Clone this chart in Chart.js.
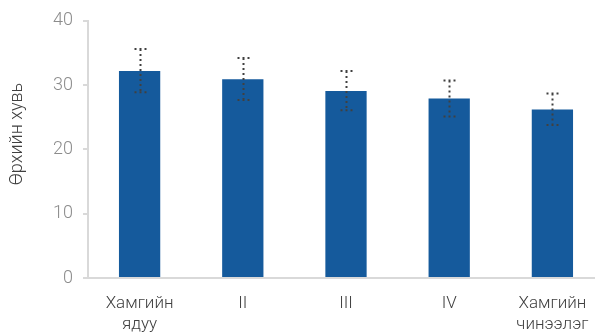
<!DOCTYPE html>
<html>
<head>
<meta charset="utf-8">
<script src="https://cdn.jsdelivr.net/npm/chart.js@4/dist/chart.umd.min.js"></script>
<style>
  html, body { margin: 0; padding: 0; background: #fff; overflow: hidden; }
  #wrap { width: 604px; height: 332px; }
</style>
</head>
<body>
<div id="wrap"><canvas id="chart"></canvas></div>
<script>
// Chart values
const categories = [["Хамгийн", "ядуу"], "II", "III", "IV", ["Хамгийн", "чинээлэг"]];
const shares = [32.2, 30.9, 29.1, 27.9, 26.2];
const errLow = [28.9, 27.7, 26.1, 25.1, 23.8];
const errHigh = [35.6, 34.2, 32.2, 30.7, 28.7];
const yTicks = [0, 10, 20, 30, 40];
const yTitle = 'Өрхийн хувь';

// Dotted error bars drawn on top of the bars
const errorBars = {
    id: 'errorBars',
    afterDatasetsDraw(chart) {
        const ctx = chart.ctx;
        const x = chart.scales.x;
        const y = chart.scales.y;
        ctx.save();
        ctx.strokeStyle = '#404040';
        ctx.lineWidth = 2;
        ctx.setLineDash([2, 3]);
        shares.forEach((v, i) => {
            const cx = Math.round(x.getPixelForValue(i)) + 0.5;
            const top = y.getPixelForValue(errHigh[i]);
            const bot = y.getPixelForValue(errLow[i]);
            ctx.beginPath();
            ctx.moveTo(cx, top);
            ctx.lineTo(cx, bot);
            ctx.moveTo(cx - 6, top);
            ctx.lineTo(cx + 6, top);
            ctx.moveTo(cx - 6, bot);
            ctx.lineTo(cx + 6, bot);
            ctx.stroke();
        });
        ctx.restore();
    }
};

// Y axis title, placed a bit above the middle like the original
const sideTitle = {
    id: 'sideTitle',
    afterDraw(chart) {
        const ctx = chart.ctx;
        ctx.save();
        ctx.translate(17, 134);
        ctx.rotate(-Math.PI / 2);
        ctx.fillStyle = '#404040';
        ctx.font = '300 18px Roboto';
        ctx.textAlign = 'center';
        ctx.textBaseline = 'middle';
        ctx.fillText(yTitle, 0, 0);
        ctx.restore();
    }
};

const ctx = document.getElementById('chart').getContext('2d');
new Chart(ctx, {
    type: 'bar',
    data: {
        labels: categories,
        datasets: [{
            data: shares,
            backgroundColor: '#155a9c',
            barPercentage: 0.4,
            categoryPercentage: 1.0
        }]
    },
    options: {
        responsive: true,
        maintainAspectRatio: false,
        animation: false,
        layout: { padding: { top: 18, right: 0, left: 0, bottom: 0 } },
        plugins: {
            legend: { display: false },
            tooltip: { enabled: false }
        },
        scales: {
            x: {
                grid: { display: false },
                border: { display: true, color: '#d9d9d9', width: 2 },
                ticks: {
                    color: '#404040',
                    padding: 8,
                    maxRotation: 0,
                    font: { family: 'Roboto', weight: 300, size: 17, lineHeight: 1.2 }
                },
                afterFit(scale) { scale.height = 54; }
            },
            y: {
                min: 0,
                max: 40,
                afterBuildTicks(scale) {
                    scale.ticks = yTicks.map(v => ({ value: v }));
                },
                grid: {
                    display: true,
                    drawOnChartArea: false,
                    drawTicks: true,
                    tickLength: 5,
                    color: '#d9d9d9',
                    lineWidth: 2
                },
                border: { display: true, color: '#d9d9d9', width: 2 },
                ticks: {
                    color: '#8c8c8c',
                    padding: 10,
                    font: { family: 'Roboto', weight: 300, size: 18 }
                },
                afterFit(scale) { scale.width = 88; }
            }
        }
    },
    plugins: [errorBars, sideTitle]
});
</script>
</body>
</html>
